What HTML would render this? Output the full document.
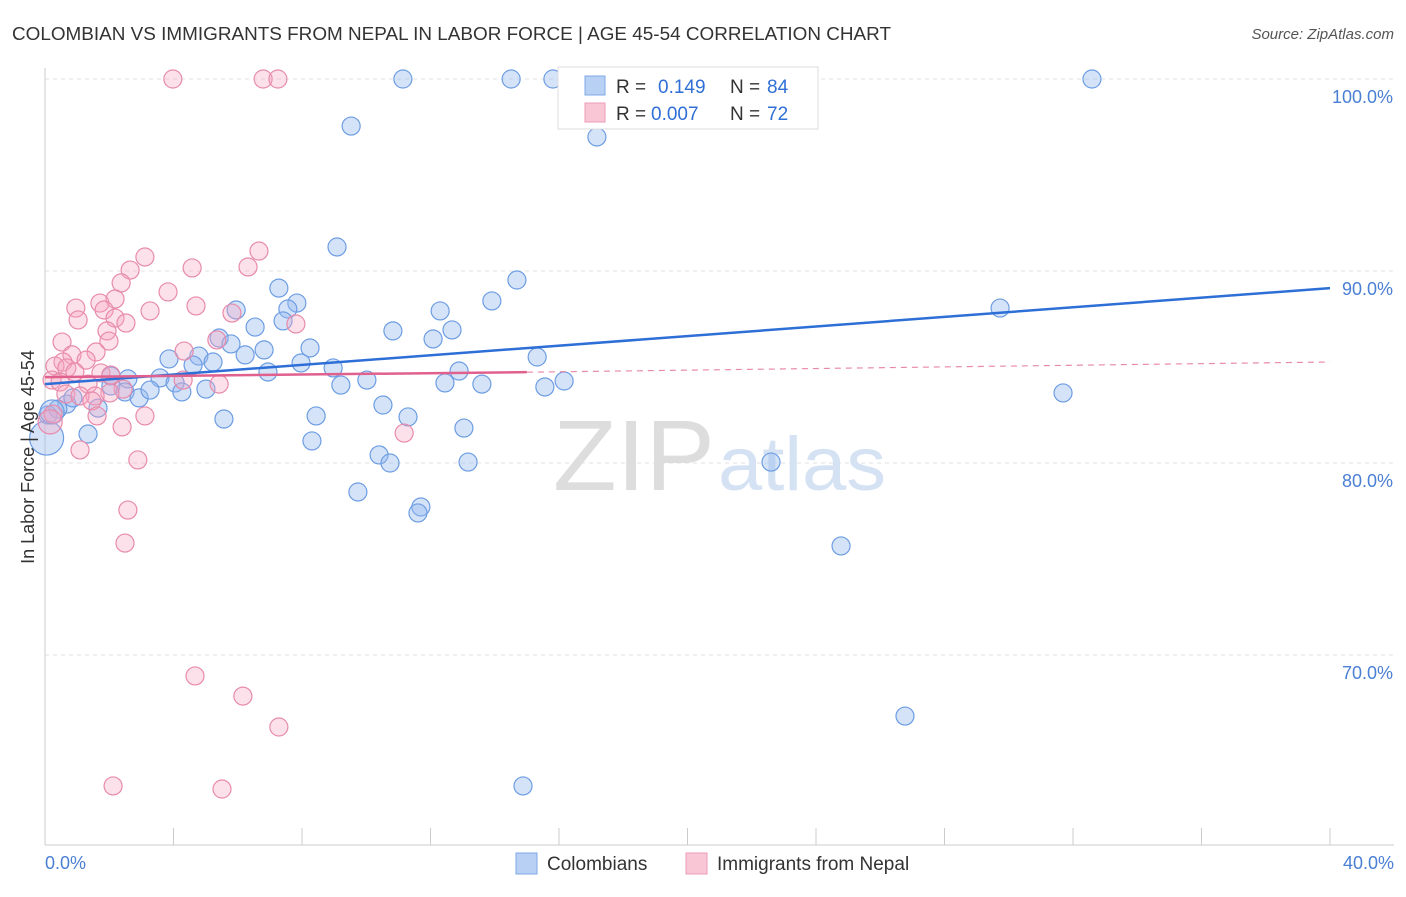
<!DOCTYPE html>
<html><head><meta charset="utf-8">
<style>
body{margin:0;background:#fff;font-family:"Liberation Sans",sans-serif;}
svg text{font-family:"Liberation Sans",sans-serif;}
</style></head>
<body>
<svg id="chart" width="1406" height="892" xmlns="http://www.w3.org/2000/svg">
<text x="12" y="40" font-size="18" fill="#333" textLength="879" lengthAdjust="spacingAndGlyphs">COLOMBIAN VS IMMIGRANTS FROM NEPAL IN LABOR FORCE | AGE 45-54 CORRELATION CHART</text>
<text x="1394" y="39" font-size="15" fill="#555" font-style="italic" text-anchor="end">Source: ZipAtlas.com</text>
<g id="grid"></g>
<text x="553" y="490" font-size="100" fill="#ddd" font-family="Liberation Serif" textLength="162" lengthAdjust="spacingAndGlyphs">ZIP</text>
<text x="718" y="490" font-size="76" fill="#d4e2f4" textLength="168" lengthAdjust="spacingAndGlyphs">atlas</text>
<g id="pts"></g>
<g id="trend"></g>
<text transform="translate(34,457) rotate(-90)" font-size="18" fill="#333" text-anchor="middle">In Labor Force | Age 45-54</text>
<text x="45" y="869" font-size="18" fill="#4a7fd4">0.0%</text>
<text x="1394" y="869" font-size="18" fill="#4a7fd4" text-anchor="end">40.0%</text>
<g>
<rect x="558" y="67" width="260" height="62" fill="#fff" stroke="#ddd"/>
<rect x="585" y="76" width="20" height="19" fill="#b8d0f4" stroke="#7fa8e6"/>
<text x="616" y="93" font-size="19" fill="#333">R =</text>
<text x="658" y="93" font-size="19" fill="#2f6fd6">0.149</text>
<text x="730" y="93" font-size="19" fill="#333">N =</text>
<text x="767" y="93" font-size="19" fill="#2f6fd6">84</text>
<rect x="585" y="103" width="20" height="19" fill="#f9c6d6" stroke="#ec9cb7"/>
<text x="616" y="120" font-size="19" fill="#333">R =</text>
<text x="651" y="120" font-size="19" fill="#2f6fd6">0.007</text>
<text x="730" y="120" font-size="19" fill="#333">N =</text>
<text x="767" y="120" font-size="19" fill="#2f6fd6">72</text>
</g>
<g>
<rect x="516" y="853" width="21" height="21" fill="#b8d0f4" stroke="#7fa8e6"/>
<text x="547" y="870" font-size="19" fill="#333">Colombians</text>
<rect x="686" y="853" width="21" height="21" fill="#f9c6d6" stroke="#ec9cb7"/>
<text x="717" y="870" font-size="19" fill="#333">Immigrants from Nepal</text>
</g>
</svg>
<script>
const yTicks=[100,90,80,70];
const yTickLabels=["100.0%","90.0%","80.0%","70.0%"];
const blueX=[11.14,14.51,15.81,22.26,32.59,9.53,17.18,9.09,14.69,7.28,7.84,13.91,5.95,7.56,12.30,29.73,7.41,6.54,10.83,12.67,12.08,5.42,5.79,6.82,8.25,6.23,4.79,3.86,15.32,5.23,4.61,7.97,6.94,8.97,12.89,3.58,4.05,2.58,2.05,10.02,9.21,12.45,13.60,15.56,16.16,2.05,2.49,2.93,3.27,4.26,5.01,31.69,10.52,8.44,11.30,5.57,1.65,0.68,0.87,0.40,0.09,13.04,1.34,8.31,10.40,10.74,13.17,22.60,9.74,11.70,11.61,24.78,26.77,14.88,0.05,0.22];
const blueY=[100,100,100,100,100,97.55,96.98,91.25,89.53,89.11,88.33,88.44,87.97,88.02,87.92,88.07,87.40,87.08,86.88,86.93,86.46,86.51,86.20,85.89,85.99,85.63,85.57,85.42,85.52,85.26,85.10,85.21,84.74,84.95,84.79,84.43,84.17,84.38,84.53,84.32,84.06,84.17,84.11,83.96,84.27,84.01,83.70,83.39,83.80,83.70,83.85,83.65,83.02,82.45,82.40,82.29,82.86,83.07,83.39,82.81,82.50,81.82,81.51,81.15,80.42,80.00,80.05,80.05,78.49,77.71,77.40,75.68,66.82,63.18,81.30,82.66];
const blueR=blueX.map((v,i)=>i===74?17:(i===75?12:9));
const pinkX=[3.98,6.79,7.25,6.66,3.11,2.65,4.58,6.32,2.37,3.83,1.71,2.18,4.70,3.27,0.96,1.84,2.18,1.03,7.81,2.52,1.93,5.82,0.53,1.99,5.35,4.33,1.59,0.84,0.56,1.28,0.31,0.68,1.74,2.05,0.93,4.30,5.42,0.22,0.47,1.34,2.43,2.02,1.56,0.65,1.09,1.46,1.62,3.11,0.25,11.18,2.40,1.09,2.89,2.58,2.49,4.67,6.16,7.28,2.12,5.51,0.16];
const pinkY=[100,100,100,91.04,90.73,90.05,90.16,90.21,89.38,88.91,88.33,88.54,88.18,87.92,88.07,87.97,87.55,87.45,87.24,87.29,86.88,87.81,86.30,86.35,86.41,85.83,85.78,85.63,85.26,85.36,85.05,84.95,84.69,84.58,84.74,84.32,84.11,84.32,84.22,84.11,83.85,83.65,83.49,83.59,83.49,83.23,82.45,82.45,82.55,81.56,81.88,80.68,80.16,77.55,75.83,68.91,67.86,66.25,63.18,63.02,82.14];
const pinkR=pinkX.map((v,i)=>i===60?12:9);
const blueTrend=[84.11,89.11];
const pinkTrend=[84.47,84.73,85.26];
const pinkTrendBreak=15;
const xs=v=>45+v*32.125, ys=v=>79+(100-v)*19.2;
const NS="http://www.w3.org/2000/svg";
function mk(t,a,p){const e=document.createElementNS(NS,t);for(const k in a)e.setAttribute(k,a[k]);p.appendChild(e);return e;}
const grid=document.getElementById('grid');
yTicks.forEach((t,i)=>{
 const l=mk('line',{x1:45,x2:1394,y1:ys(t),y2:ys(t),stroke:'#e2e2e2','stroke-dasharray':'4,4'},grid);
 
 
 const tx=mk('text',{x:1393,y:ys(t)+24,'font-size':18,fill:'#4a7fd4','text-anchor':'end'},grid);
 tx.textContent=yTickLabels[i];
 
 
});
mk('line',{x1:45,x2:45,y1:68,y2:845,stroke:'#ccc'},grid);
mk('line',{x1:45,x2:1394,y1:845,y2:845,stroke:'#ccc'},grid);
for(let i=0;i<=10;i++){const t=mk('line',{x1:xs(i*4),x2:xs(i*4),y1:828,y2:845,stroke:'#ccc'},grid);
 
 }
const pts=document.getElementById('pts');
blueX.forEach((x,i)=>{const c=mk('circle',{cx:xs(x),cy:ys(blueY[i]),r:blueR[i],fill:'rgba(150,185,240,0.4)',stroke:'#6d9de3','stroke-width':1.2},pts);
 
 });
pinkX.forEach((x,i)=>{const c=mk('circle',{cx:xs(x),cy:ys(pinkY[i]),r:pinkR[i],fill:'rgba(245,165,195,0.35)',stroke:'#e88bab','stroke-width':1.2},pts);
 
 });
const tr=document.getElementById('trend');
const b=mk('line',{x1:xs(0),y1:ys(blueTrend[0]),x2:xs(40),y2:ys(blueTrend[1]),stroke:'#2d6fd6','stroke-width':2.5},tr);


const p=mk('line',{x1:xs(0),y1:ys(pinkTrend[0]),x2:xs(pinkTrendBreak),y2:ys(pinkTrend[1]),stroke:'#e0608e','stroke-width':2.5},tr);


const pd=mk('line',{x1:xs(pinkTrendBreak),y1:ys(pinkTrend[1]),x2:xs(40),y2:ys(pinkTrend[2]),stroke:'#e88bab','stroke-width':1.2,'stroke-dasharray':'6,5'},tr);


</script>
</body></html>
